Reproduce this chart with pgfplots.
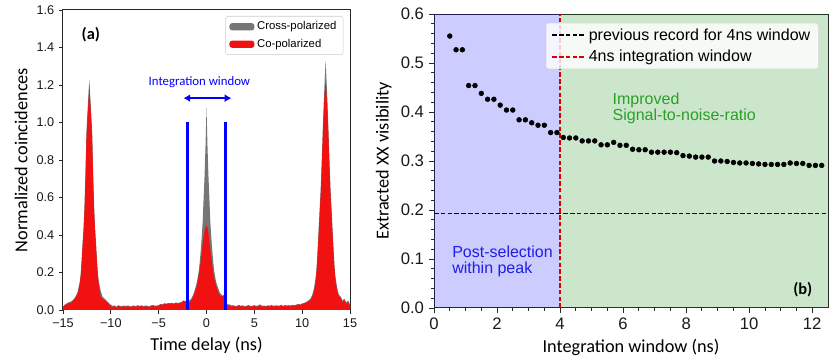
\documentclass[border=0pt]{standalone}
\usepackage{fontspec}
\setmainfont{Liberation Sans}
\newfontfamily\calib{Carlito}
\usepackage{pgfplots}
\pgfplotsset{compat=1.18}
\usetikzlibrary{arrows.meta}

\definecolor{crossgray}{RGB}{118,118,118}
\definecolor{copred}{RGB}{242,17,17}
\definecolor{spangreen}{RGB}{0,128,0}
\definecolor{greentext}{RGB}{40,160,40}
\definecolor{bluetext}{RGB}{30,30,230}
\definecolor{spine}{RGB}{40,40,40}

\pgfplotsset{
  panel/.style={
    scale only axis, anchor=south west,
    tick align=outside, tick pos=left,
    axis line style={spine, line width=0.75pt},
    tick style={spine, line width=0.7pt},
    label style={font=\calib\fontsize{13.7}{16}\selectfont},
    legend cell align=left,
  },
  patchlegend/.style={
    legend image code/.code={\fill[##1] (0pt,-2.7pt) rectangle (18.75pt,2.7pt);}},
  linelegend/.style={
    legend image code/.code={\draw[##1] (0pt,0pt) -- (25pt,0pt);}},
}

\begin{document}
\begin{tikzpicture}
\path[use as bounding box] (0pt,0pt) rectangle (623.25pt,270pt);

% ---------------- (a) coincidence histogram ----------------
\begin{axis}[panel,
  at={(47.25pt,37.5pt)}, width=215.25pt, height=225pt,
  xmin=-15, xmax=15, ymin=0, ymax=1.6,
  xtick={-15,-10,-5,0,5,10,15},
  xticklabels={−15,−10,−5,0,5,10,15},
  ytick={0,0.2,0.4,0.6,0.8,1.0,1.2,1.4,1.6},
  yticklabels={0.0,0.2,0.4,0.6,0.8,1.0,1.2,1.4,1.6},
  ticklabel style={font=\fontsize{9.5}{11}\selectfont, text=black!90},
  major tick length=3pt,
  xlabel={Time delay (ns)}, ylabel={Normalized coincidences},
  legend style={at={(0.977,0.98)}, anchor=north east,
    font=\fontsize{8.5}{10}\selectfont, draw=black!20, rounded corners=2pt,
    row sep=1.5pt, inner xsep=3pt},
]
\addplot[fill=crossgray, draw=none, patchlegend]
  coordinates {
  (-15.0,0.020) (-14.8,0.030) (-14.6,0.035) (-14.4,0.040) (-14.2,0.045) (-14.0,0.050)
  (-13.85,0.060) (-13.65,0.075) (-13.45,0.100) (-13.25,0.150) (-13.15,0.190) (-13.05,0.270)
  (-12.95,0.360) (-12.85,0.440) (-12.75,0.560) (-12.65,0.730) (-12.55,0.950) (-12.45,1.050)
  (-12.35,1.140) (-12.25,1.230) (-12.15,1.140) (-12.05,1.050) (-11.95,0.950) (-11.85,0.730)
  (-11.75,0.560) (-11.65,0.440) (-11.55,0.360) (-11.45,0.270) (-11.35,0.190) (-11.25,0.150)
  (-11.05,0.100) (-10.85,0.070) (-10.65,0.060) (-10.45,0.050) (-10.25,0.040) (-10.05,0.030)
  (-9.8,0.022) (-9.6,0.024) (-9.4,0.018) (-9.2,0.026) (-9.0,0.020) (-8.8,0.022) (-8.6,0.024)
  (-8.4,0.020) (-8.2,0.025) (-8.0,0.019) (-7.8,0.022) (-7.6,0.024) (-7.4,0.021) (-7.2,0.026)
  (-7.0,0.022) (-6.8,0.025) (-6.6,0.021) (-6.4,0.024) (-6.2,0.023) (-6.0,0.020) (-5.8,0.025)
  (-5.6,0.026) (-5.4,0.024) (-5.2,0.023) (-5.0,0.027) (-4.8,0.032) (-4.6,0.030) (-4.4,0.036)
  (-4.2,0.034) (-4.0,0.037) (-3.8,0.036) (-3.6,0.038) (-3.4,0.035) (-3.2,0.040) (-3.0,0.037)
  (-2.8,0.040) (-2.6,0.042) (-2.4,0.050) (-2.2,0.047) (-2.0,0.035)
  (-1.8,0.050) (-1.6,0.060) (-1.4,0.080) (-1.2,0.110) (-1.0,0.150) (-0.9,0.180) (-0.8,0.210)
  (-0.7,0.260) (-0.6,0.320) (-0.5,0.390) (-0.4,0.470) (-0.3,0.600) (-0.2,0.720) (-0.1,0.880)
  (0.0,1.080) (0.1,0.880) (0.2,0.720) (0.3,0.600) (0.4,0.470) (0.5,0.390) (0.6,0.320)
  (0.7,0.260) (0.8,0.210) (0.9,0.180) (1.0,0.150) (1.2,0.120) (1.4,0.090) (1.6,0.080)
  (1.8,0.070) (2.0,0.040) (2.2,0.030)
  (2.4,0.030) (2.6,0.024) (2.8,0.026) (3.0,0.021) (3.2,0.023) (3.4,0.028) (3.6,0.022)
  (3.8,0.025) (4.0,0.020) (4.2,0.022) (4.4,0.027) (4.6,0.021) (4.8,0.023) (5.0,0.026)
  (5.2,0.022) (5.4,0.024) (5.6,0.030) (5.8,0.022) (6.0,0.024) (6.2,0.021) (6.4,0.025)
  (6.6,0.023) (6.8,0.027) (7.0,0.022) (7.2,0.025) (7.4,0.024) (7.6,0.023) (7.8,0.028)
  (8.0,0.022) (8.2,0.027) (8.4,0.024) (8.6,0.026) (8.8,0.024) (9.0,0.028) (9.2,0.025)
  (9.4,0.029) (9.6,0.032) (9.8,0.030) (10.0,0.035) (10.2,0.038) (10.4,0.042) (10.6,0.048)
  (10.85,0.060) (11.05,0.080) (11.25,0.120) (11.45,0.190) (11.55,0.260) (11.65,0.360)
  (11.75,0.460) (11.85,0.560) (11.95,0.660) (12.05,0.800) (12.15,0.960) (12.25,1.100)
  (12.35,1.220) (12.45,1.330) (12.55,1.220) (12.65,1.100) (12.75,0.960) (12.85,0.800)
  (12.95,0.660) (13.05,0.560) (13.15,0.460) (13.25,0.360) (13.35,0.260) (13.45,0.190)
  (13.65,0.120) (13.85,0.080) (14.05,0.070) (14.2,0.050) (14.4,0.060) (14.6,0.040)
  (14.8,0.050) (15.0,0.030)
  } \closedcycle;
\addlegendentry{Cross-polarized}
\addplot[fill=copred, draw=none, patchlegend]
  coordinates {
  (-15.0,0.015) (-14.8,0.025) (-14.6,0.030) (-14.4,0.040) (-14.2,0.035) (-14.0,0.050)
  (-13.85,0.055) (-13.65,0.070) (-13.45,0.090) (-13.25,0.140) (-13.15,0.180) (-13.05,0.250)
  (-12.95,0.340) (-12.85,0.420) (-12.75,0.530) (-12.65,0.700) (-12.55,0.910) (-12.45,1.010)
  (-12.35,1.100) (-12.25,1.200) (-12.15,1.100) (-12.05,1.010) (-11.95,0.910) (-11.85,0.700)
  (-11.75,0.530) (-11.65,0.420) (-11.55,0.340) (-11.45,0.250) (-11.35,0.180) (-11.25,0.130)
  (-11.05,0.070) (-10.85,0.060) (-10.65,0.055) (-10.45,0.045) (-10.25,0.035) (-10.05,0.020)
  (-9.8,0.016) (-9.6,0.020) (-9.4,0.012) (-9.2,0.022) (-9.0,0.018) (-8.8,0.014) (-8.6,0.020)
  (-8.4,0.017) (-8.2,0.021) (-8.0,0.014) (-7.8,0.018) (-7.6,0.021) (-7.4,0.016) (-7.2,0.020)
  (-7.0,0.018) (-6.8,0.022) (-6.6,0.016) (-6.4,0.020) (-6.2,0.018) (-6.0,0.014) (-5.8,0.020)
  (-5.6,0.024) (-5.4,0.018) (-5.2,0.020) (-5.0,0.022) (-4.8,0.030) (-4.6,0.026) (-4.4,0.034)
  (-4.2,0.030) (-4.0,0.035) (-3.8,0.032) (-3.6,0.036) (-3.4,0.030) (-3.2,0.038) (-3.0,0.034)
  (-2.8,0.037) (-2.6,0.040) (-2.4,0.050) (-2.2,0.045) (-2.0,0.030)
  (-1.8,0.040) (-1.6,0.050) (-1.4,0.070) (-1.2,0.100) (-1.0,0.130) (-0.9,0.160) (-0.8,0.190)
  (-0.7,0.220) (-0.6,0.260) (-0.5,0.300) (-0.4,0.350) (-0.3,0.390) (-0.2,0.420) (-0.1,0.440)
  (0.0,0.450) (0.1,0.440) (0.2,0.410) (0.3,0.370) (0.4,0.320) (0.5,0.280) (0.6,0.240)
  (0.7,0.200) (0.8,0.170) (0.9,0.150) (1.0,0.130) (1.2,0.100) (1.4,0.080) (1.6,0.070)
  (1.8,0.080) (2.0,0.030) (2.2,0.025)
  (2.4,0.025) (2.6,0.018) (2.8,0.022) (3.0,0.016) (3.2,0.020) (3.4,0.024) (3.6,0.018)
  (3.8,0.021) (4.0,0.015) (4.2,0.020) (4.4,0.023) (4.6,0.017) (4.8,0.020) (5.0,0.022)
  (5.2,0.016) (5.4,0.021) (5.6,0.025) (5.8,0.018) (6.0,0.020) (6.2,0.016) (6.4,0.022)
  (6.6,0.018) (6.8,0.024) (7.0,0.017) (7.2,0.020) (7.4,0.022) (7.6,0.018) (7.8,0.025)
  (8.0,0.019) (8.2,0.022) (8.4,0.020) (8.6,0.023) (8.8,0.019) (9.0,0.024) (9.2,0.021)
  (9.4,0.026) (9.6,0.030) (9.8,0.025) (10.0,0.032) (10.2,0.034) (10.4,0.040) (10.6,0.045)
  (10.85,0.050) (11.05,0.070) (11.25,0.100) (11.45,0.170) (11.55,0.240) (11.65,0.330)
  (11.75,0.430) (11.85,0.530) (11.95,0.630) (12.05,0.770) (12.15,0.920) (12.25,1.050)
  (12.35,1.150) (12.45,1.220) (12.55,1.150) (12.65,1.050) (12.75,0.920) (12.85,0.770)
  (12.95,0.630) (13.05,0.530) (13.15,0.430) (13.25,0.330) (13.35,0.240) (13.45,0.170)
  (13.65,0.100) (13.85,0.070) (14.05,0.065) (14.2,0.040) (14.4,0.055) (14.6,0.030)
  (14.8,0.045) (15.0,0.020)
  } \closedcycle;
\addlegendentry{Co-polarized}
% integration window boundaries
\addplot[blue, line width=2pt, forget plot] coordinates {(-2,0) (-2,1.0)};
\addplot[blue, line width=2pt, forget plot] coordinates {(2,0) (2,1.0)};
\draw[blue, line width=1.5pt, {Latex[length=5pt,width=6pt]}-{Latex[length=5pt,width=6pt]}]
  (axis cs:-2.4,1.13) -- (axis cs:2.6,1.13);
\node[text=blue, font=\calib\fontsize{9.6}{11}\selectfont] at (axis cs:-0.74,1.214) {Integration window};
\node[font=\calib\bfseries\fontsize{12.3}{14}\selectfont] at (axis cs:-12.09,1.467) {(a)};
\end{axis}

% ---------------- (b) visibility vs window ----------------
\begin{axis}[panel,
  at={(325.5pt,39pt)}, width=295.5pt, height=220.5pt,
  xmin=0, xmax=12.5, ymin=0, ymax=0.6,
  xtick={0,2,4,6,8,10,12},
  xticklabels={0,2,4,6,8,10,12},
  ytick={0,0.1,0.2,0.3,0.4,0.5,0.6},
  yticklabels={0.0,0.1,0.2,0.3,0.4,0.5,0.6},
  minor x tick num=3, minor y tick num=4,
  major tick length=4pt, minor tick length=2.2pt,
  ticklabel style={font=\fontsize{12.5}{14}\selectfont, text=black!90},
  xlabel={Integration window (ns)}, ylabel={Extracted XX visibility},
  legend style={at={(0.976,0.970)}, anchor=north east,
    font=\fontsize{12}{14}\selectfont, draw=black!15, rounded corners=2pt,
    fill=white, fill opacity=0.8, text opacity=1, row sep=2pt, inner xsep=4pt},
]
\addplot[black, line width=1.1pt, dash pattern=on 3.5pt off 1.6pt, linelegend] coordinates {(0,0.193) (12.5,0.193)};
\addlegendentry{previous record for 4ns window}
\addplot[only marks, mark=*, mark size=1.8pt, black, forget plot] coordinates {
  (0.5,0.555) (0.7,0.527) (0.9,0.527) (1.1,0.454) (1.3,0.454) (1.5,0.438)
  (1.7,0.426) (1.9,0.426) (2.1,0.414) (2.3,0.404) (2.5,0.404) (2.7,0.384)
  (2.9,0.384) (3.1,0.378) (3.3,0.373) (3.5,0.373) (3.7,0.358) (3.9,0.358)
  (4.1,0.348) (4.3,0.347) (4.5,0.347) (4.7,0.341) (4.9,0.341) (5.1,0.341)
  (5.3,0.333) (5.5,0.333) (5.7,0.338) (5.9,0.332) (6.1,0.332) (6.3,0.324)
  (6.5,0.323) (6.7,0.323) (6.9,0.318) (7.1,0.318) (7.3,0.318) (7.5,0.318)
  (7.7,0.317) (7.9,0.311) (8.1,0.310) (8.3,0.308) (8.5,0.308) (8.7,0.308)
  (8.9,0.300) (9.1,0.300) (9.3,0.299) (9.5,0.297) (9.7,0.296) (9.9,0.296)
  (10.1,0.295) (10.3,0.294) (10.5,0.293) (10.7,0.293) (10.9,0.293) (11.1,0.293)
  (11.3,0.296) (11.5,0.295) (11.7,0.295) (11.9,0.291) (12.1,0.291) (12.3,0.291)
};
% translucent spans drawn over the data, as in the original
\addplot[fill=blue, fill opacity=0.2, draw=none, forget plot] coordinates {(0,0.6) (4,0.6)} \closedcycle;
\addplot[fill=spangreen, fill opacity=0.2, draw=none, forget plot] coordinates {(4,0.6) (12.5,0.6)} \closedcycle;
\addplot[red!85!black, line width=1.1pt, dash pattern=on 3.5pt off 1.6pt, linelegend] coordinates {(4,0) (4,0.6)};
\addlegendentry{4ns integration window}
\node[anchor=base west, text=greentext, font=\fontsize{12}{14}\selectfont] at (axis cs:5.52,0.4155) {Improved};
\node[anchor=base west, text=greentext, font=\fontsize{12}{14}\selectfont] at (axis cs:5.52,0.382) {Signal-to-noise-ratio};
\node[anchor=base west, text=bluetext, font=\fontsize{12}{14}\selectfont] at (axis cs:0.43,0.103) {Post-selection};
\node[anchor=base west, text=bluetext, font=\fontsize{12}{14}\selectfont] at (axis cs:0.43,0.070) {within peak};
\node[font=\calib\bfseries\fontsize{12.3}{14}\selectfont] at (axis cs:11.7,0.038) {(b)};
\end{axis}
\end{tikzpicture}
\end{document}
